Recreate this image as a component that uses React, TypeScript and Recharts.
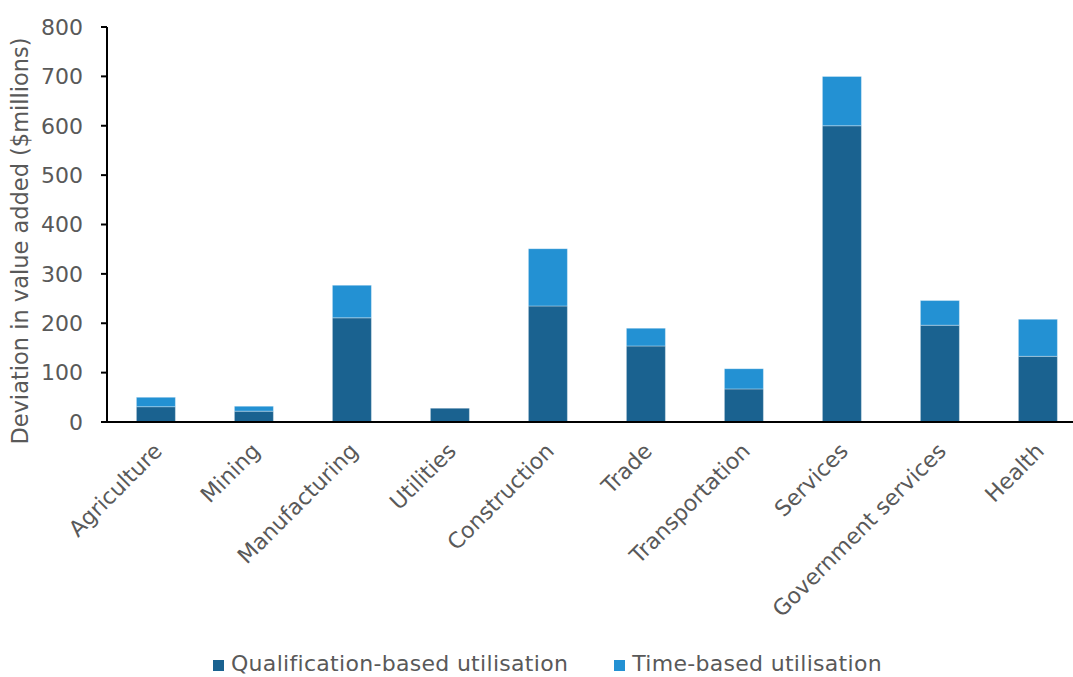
import React from "react";
import { Bar, BarChart, XAxis, YAxis } from "recharts";

const categories = [
  "Agriculture",
  "Mining",
  "Manufacturing",
  "Utilities",
  "Construction",
  "Trade",
  "Transportation",
  "Services",
  "Government services",
  "Health",
];

// deviation in value added, $ millions
const qualificationBased = [31, 22, 211, 28, 235, 154, 67, 600, 196, 133];
const timeBased = [19, 10, 66, -4, 116, 36, 41, 100, 50, 75];

const yTicks = [0, 100, 200, 300, 400, 500, 600, 700, 800];

const seriesNames = {
  qualification: "Qualification-based utilisation",
  time: "Time-based utilisation",
};

const DARK = "#1a6290";
const LIGHT = "#2391d3";
const TEXT = "#595959";
const FONT = "'DejaVu Sans', Verdana, sans-serif";

const data = categories.map((name, i) => ({
  name,
  qualification: qualificationBased[i],
  time: timeBased[i],
}));

function CategoryTick(props: any) {
  const { x, y, payload } = props;
  return (
    <text
      transform={`translate(${x + 2},${y + 25}) rotate(-45)`}
      textAnchor="end"
      dy="0.35em"
      fill={TEXT}
      fontSize={22}
      fontFamily={FONT}
    >
      {payload.value}
    </text>
  );
}

function AxisTitle() {
  return (
    <text
      transform="translate(28,241) rotate(-90)"
      textAnchor="middle"
      fill={TEXT}
      fontSize={22.5}
      fontFamily={FONT}
    >
      Deviation in value added ($millions)
    </text>
  );
}

function LegendItem({ color, label, gap }: { color: string; label: string; gap: number }) {
  return (
    <div style={{ display: "flex", alignItems: "center", marginRight: gap, flexShrink: 0 }}>
      <div
        style={{ width: 11, height: 11, background: color, marginRight: 7, position: "relative", top: 1 }}
      />
      <span
        style={{
          fontSize: 22,
          lineHeight: "22px",
          letterSpacing: 0.3,
          color: TEXT,
          whiteSpace: "nowrap",
        }}
      >
        {label}
      </span>
    </div>
  );
}

export default function App() {
  return (
    <div
      style={{
        position: "absolute",
        left: 0,
        top: 0,
        width: 1073,
        height: 677,
        overflow: "hidden",
        background: "#fff",
        fontFamily: FONT,
      }}
    >
      <BarChart
        width={1100}
        height={677}
        data={data}
        stackOffset="sign"
        barCategoryGap="30%"
        margin={{ top: 27, right: 13, bottom: 0, left: 0 }}
      >
        <XAxis
          dataKey="name"
          height={255}
          interval={0}
          tickLine={false}
          tickSize={0}
          tickMargin={0}
          axisLine={{ stroke: "#000", strokeWidth: 2 }}
          tick={<CategoryTick />}
        />
        <YAxis
          width={107}
          domain={[0, 800]}
          ticks={yTicks}
          allowDataOverflow
          tickSize={6}
          tickMargin={18}
          axisLine={{ stroke: "#000", strokeWidth: 2 }}
          tickLine={{ stroke: "#000", strokeWidth: 2 }}
          tick={{ fill: TEXT, fontSize: 22, fontFamily: FONT }}
          label={{ content: () => <AxisTitle /> }}
        />
        <Bar
          dataKey="qualification"
          stackId="a"
          fill={DARK}
          stroke="rgba(255,255,255,0.45)"
          strokeWidth={0.75}
          isAnimationActive={false}
        />
        <Bar
          dataKey="time"
          stackId="a"
          fill={LIGHT}
          stroke="rgba(255,255,255,0.45)"
          strokeWidth={0.75}
          isAnimationActive={false}
        />
      </BarChart>
      <div
        style={{
          position: "absolute",
          left: 213,
          top: 653,
          width: 760,
          height: 22,
          display: "flex",
          alignItems: "center",
        }}
      >
        <LegendItem color={DARK} label={seriesNames.qualification} gap={46} />
        <LegendItem color={LIGHT} label={seriesNames.time} gap={0} />
      </div>
    </div>
  );
}
